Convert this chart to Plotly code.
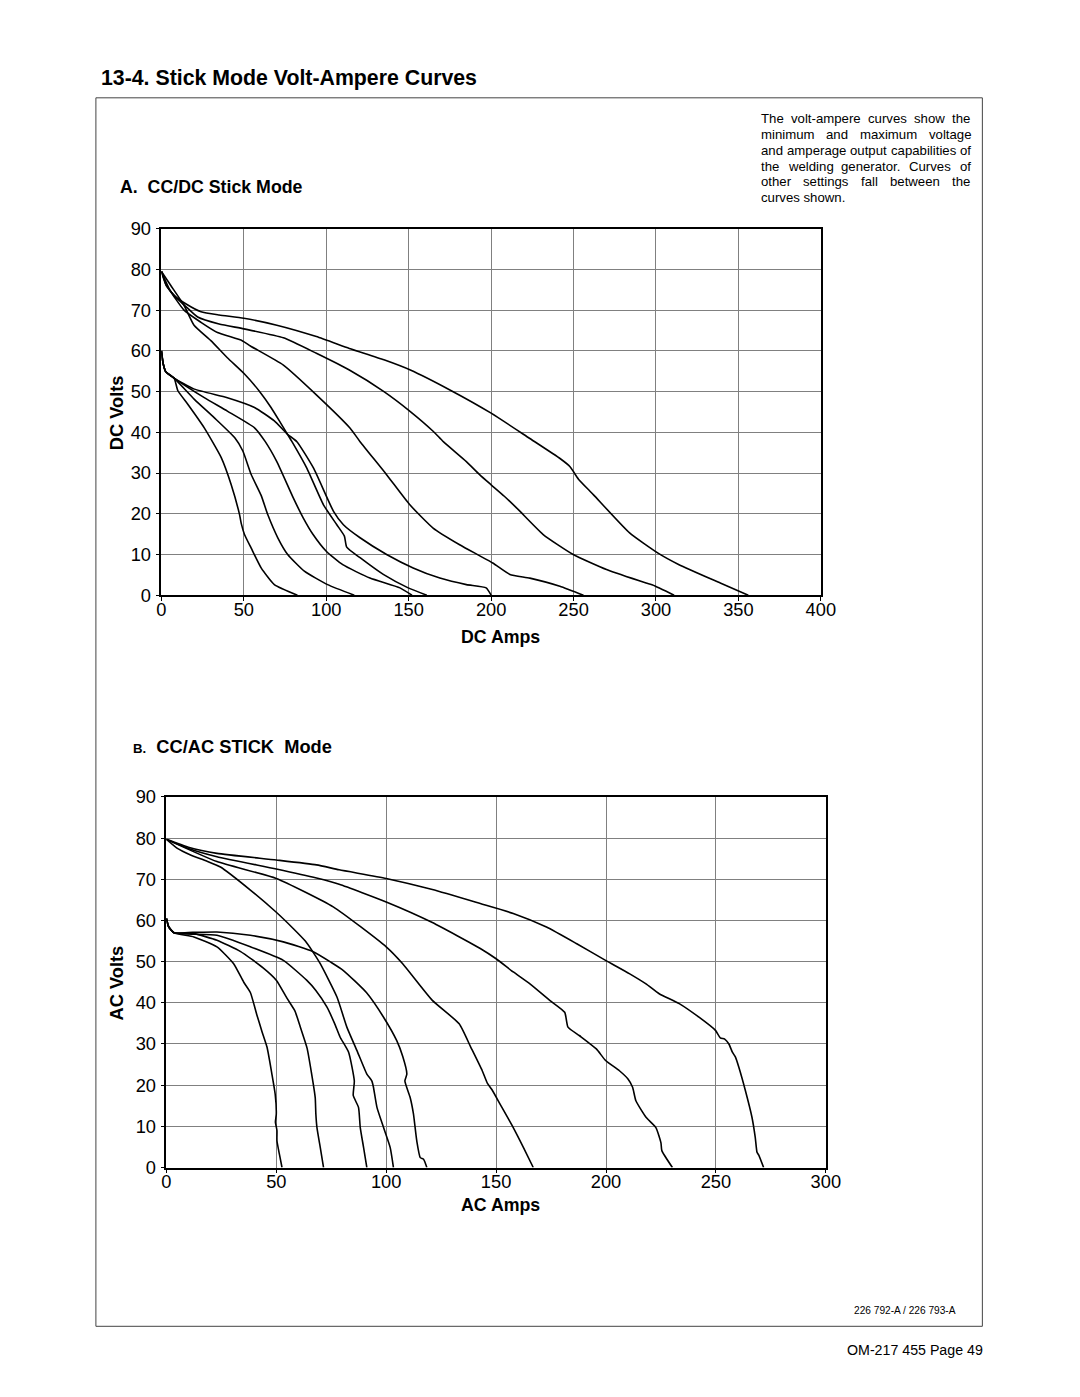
import plotly.graph_objects as go

# ---------------- DC chart data (amps, volts) ----------------
dc_u1_amps = [0, 3, 8, 15, 24, 35, 50, 70, 94, 114, 135, 151, 175, 200, 223, 242, 248, 250, 253, 262, 284, 301, 314, 339, 356]
dc_u1_volts = [79.5, 76, 73.5, 71.5, 69.6, 68.8, 68, 66.3, 63.5, 60.6, 57.8, 55.3, 50.4, 44.7, 38.6, 33.5, 31.5, 30.3, 28.5, 24.7, 15.3, 10.4, 7.5, 3, 0]

dc_u2_amps = [0, 3, 8, 15, 22, 35, 50, 74, 94, 114, 135, 151, 165, 171, 185, 193, 200, 208, 216.5, 231.6, 249.8, 270, 294, 298, 311]
dc_u2_volts = [79.5, 76, 73.5, 70.8, 68.3, 66.6, 65.4, 63.2, 59.4, 55.3, 50, 45.1, 40.2, 37.7, 32.8, 29.6, 27.1, 24.3, 21, 14.9, 10, 6.3, 3, 2.5, 0]

dc_u3_amps = [0, 5, 13.7, 24, 34, 49, 54, 74, 94, 114.5, 120.5, 136.6, 150.7, 164.8, 180.9, 201, 211.4, 223.5, 241.7, 256]
dc_u3_volts = [79.5, 75, 70, 67, 64.5, 62.5, 61.2, 56.5, 49.2, 41, 37.7, 29.6, 22.2, 16.5, 12.4, 7.9, 5.1, 4.2, 2.2, 0]

dc_u4_amps = [0, 5.6, 13.7, 19.8, 30, 40, 50.4, 60, 66.5, 72, 76.5, 79.2, 88.2, 98.3, 106.4, 111, 112.4, 120.5, 134.6, 149.7, 161]
dc_u4_volts = [79.5, 76.1, 71.2, 66.3, 62.5, 58.3, 54.3, 49.8, 46.1, 42.5, 39.5, 37.7, 31.2, 22.2, 17.3, 14.5, 11.8, 9.2, 5.1, 1.8, 0]

dc_l1_amps = [0, 1, 2.6, 7.7, 20, 40, 56.5, 68.5, 76.5, 82.2, 92.3, 104.4, 110.4, 120.5, 136.6, 152.7, 168.9, 185, 197, 200]
dc_l1_volts = [60, 57, 54.9, 53.3, 50.6, 48.5, 46.1, 42.8, 39.5, 37.7, 31.2, 20.6, 17.3, 14.1, 10, 6.7, 4.2, 2.6, 1.8, 0]

dc_l2_amps = [0, 1, 2.6, 7.7, 26, 40, 56.5, 63, 70, 80, 86, 92, 100, 110, 126.5, 144.7, 152]
dc_l2_volts = [60, 57, 54.9, 53.3, 48.5, 45.2, 41.1, 37.7, 32.8, 23.9, 19, 14.9, 10.8, 7.5, 4.2, 1.8, 0]

dc_l3_amps = [0, 1, 2.6, 7.7, 20, 32, 44.4, 49.4, 54.4, 60.5, 64.5, 70.6, 76.6, 86.7, 100.8, 117]
dc_l3_volts = [60, 57, 54.9, 53.3, 48.1, 43.6, 38.7, 35.4, 29.7, 24.5, 19.8, 14.1, 10, 5.9, 2.6, 0]

dc_l4_amps = [0, 1, 2.6, 7.7, 10, 16, 26, 36.3, 42.3, 47.4, 48.5, 50.4, 54.4, 60.5, 68.5, 82.5]
dc_l4_volts = [60, 57, 54.9, 53.3, 50.2, 46.9, 41.1, 33.8, 27.2, 19.8, 17.5, 14.9, 11.6, 6.7, 2.6, 0]

# ---------------- AC chart data (amps, volts) ----------------
ac_u1_amps = [0, 10, 23, 50, 68.3, 78.6, 100, 121, 142.8, 157.8, 172.9, 186.5, 199.8, 210.6, 218.2, 224.2, 233.3, 242.3, 249.8, 252, 254, 255.9, 257.5, 258.9, 260.4, 263.4, 266.4, 267.9, 268.7, 269.5, 271.7]
ac_u1_volts = [79.7, 77.8, 76.3, 74.7, 73.5, 72.3, 70.2, 67.5, 64.1, 61.7, 58.4, 54.4, 50.3, 47.1, 44.6, 42.2, 39.8, 36.5, 33.3, 31.5, 31.2, 30, 28, 26.8, 24.4, 18.7, 12.2, 7.3, 3.7, 3, 0]

ac_u2_amps = [0, 10, 23, 50, 68.3, 78.6, 100, 121, 142.8, 150, 157.8, 165.4, 174.4, 181.2, 182.7, 188, 195.6, 199.8, 206.1, 210, 212.1, 213.6, 218.2, 222.7, 225, 225.4, 230.2]
ac_u2_volts = [79.7, 77.5, 75.5, 72.5, 70.3, 68.8, 64.5, 59.5, 53.2, 50.7, 47.5, 44.6, 40.6, 37.7, 34.1, 32, 28.8, 26, 23.5, 21.5, 19.5, 16.2, 12.2, 9.7, 6, 4.1, 0]

ac_u3_amps = [0, 23, 50, 75.9, 100, 107.5, 121, 133.2, 138.5, 143.7, 146, 148, 151.8, 157.8, 162.4, 166.9]
ac_u3_volts = [79.7, 74.3, 70.2, 63.3, 53.6, 49.5, 40.6, 34.9, 29.2, 23.5, 20.5, 19, 15.4, 9.7, 4.9, 0]

ac_u4_amps = [0, 5, 11, 18, 24.6, 38.2, 50, 57.8, 63.2, 66.5, 70, 77.6, 82.1, 86.7, 91.2, 93.5, 94.2, 95.8, 98.8, 101.8, 103.3]
ac_u4_volts = [79.7, 77.5, 75.9, 74.5, 73, 67.4, 62, 58, 55, 52.5, 49.5, 41.4, 34.1, 28.4, 22.7, 21, 19.5, 14.6, 9.7, 4.9, 0]

ac_l1_amps = [0, 1, 3.5, 12, 23, 38.2, 53.2, 66.8, 75, 80.4, 91, 98.8, 104.8, 107.5, 109.4, 108.5, 110.9, 112.4, 113.9, 115.5, 117, 118.5]
ac_l1_volts = [60.5, 58.5, 57, 57.1, 57.2, 56.4, 54.8, 52.4, 49.8, 47.9, 42.5, 36.5, 30.8, 27, 22.7, 21, 17, 13, 6.5, 2.4, 2, 0]

ac_l2_amps = [0, 1, 3.5, 23, 38.2, 53.2, 63.8, 68, 73, 76.5, 79, 82.9, 85.5, 85, 87.4, 88.2, 89.7, 91.2]
ac_l2_volts = [60.5, 58.5, 57, 56.4, 53.6, 50.3, 45.5, 43, 39, 35, 31.7, 28, 21, 17.5, 14.6, 9.7, 4.9, 0]

ac_l3_amps = [0, 1, 3.5, 12.5, 23, 33.6, 44, 50, 55, 58.5, 61, 64, 66, 67.7, 68, 68.5, 70, 71.5]
ac_l3_volts = [60.5, 58.5, 57, 56.8, 55.2, 52.5, 48.5, 45.5, 41, 38, 34, 29, 23, 17, 13, 9.7, 4.9, 0]

ac_l4_amps = [0, 1, 3.5, 12.5, 23, 30.6, 35.2, 38.2, 41.2, 43.5, 45.8, 48, 49.5, 50, 49.6, 50.3, 50.3, 51.5, 52.6]
ac_l4_volts = [60.5, 58.5, 57, 56, 53.6, 49.5, 45, 42.5, 37, 33, 29.2, 22.7, 17.8, 13, 11, 9, 6.5, 3, 0]

dc_amp_ticks = [0, 50, 100, 150, 200, 250, 300, 350, 400]
ac_amp_ticks = [0, 50, 100, 150, 200, 250, 300]
volt_ticks = [0, 10, 20, 30, 40, 50, 60, 70, 80, 90]

note_lines = ["The volt-ampere curves show the", "minimum and maximum voltage",
              "and amperage output capabilities of", "the welding generator. Curves of",
              "other settings fall between the", "curves shown."]

dc_series = [(dc_u1_amps, dc_u1_volts), (dc_u2_amps, dc_u2_volts), (dc_u3_amps, dc_u3_volts),
             (dc_u4_amps, dc_u4_volts), (dc_l1_amps, dc_l1_volts), (dc_l2_amps, dc_l2_volts),
             (dc_l3_amps, dc_l3_volts), (dc_l4_amps, dc_l4_volts)]
ac_series = [(ac_u1_amps, ac_u1_volts), (ac_u2_amps, ac_u2_volts), (ac_u3_amps, ac_u3_volts),
             (ac_u4_amps, ac_u4_volts), (ac_l1_amps, ac_l1_volts), (ac_l2_amps, ac_l2_volts),
             (ac_l3_amps, ac_l3_volts), (ac_l4_amps, ac_l4_volts)]

# page layout: body keeps its default 8px margin; positions below are given in
# target-picture pixels and corrected for the observed capture scale/offset
OFF = 8
W, H = 1080 - 2 * OFF, 1397 - 2 * OFF
SX, OX, SY, OY = 0.984, 4.0, 0.986, 9.2
FS = 1 / 0.985
FONT = "Liberation Sans, Arial, Helvetica, sans-serif"

# Arial / Liberation Sans advance widths (1/1000 em) used to justify the note
ADV = {' ': 278, 'a': 556, 'b': 556, 'c': 500, 'd': 556, 'e': 556, 'f': 278, 'g': 556, 'h': 556,
       'i': 222, 'j': 222, 'k': 500, 'l': 222, 'm': 833, 'n': 556, 'o': 556, 'p': 556, 'q': 556,
       'r': 333, 's': 500, 't': 278, 'u': 556, 'v': 500, 'w': 722, 'x': 500, 'y': 500, 'z': 500,
       'C': 722, 'T': 611, '-': 333, '.': 278}


def tw(s, size):
    return sum(ADV.get(c, 556) for c in s) / 1000 * size


def px(x):
    return ((x - OX) / SX - OFF) / W


def py(y):
    return 1 - ((y - OY) / SY - OFF) / H


def fz(s):
    return s * FS


fig = go.Figure()
for xs, ys in dc_series:
    fig.add_trace(go.Scatter(x=xs, y=ys, mode="lines", xaxis="x", yaxis="y",
                             line=dict(color="black", width=1.6, shape="spline", smoothing=0.5),
                             showlegend=False, hoverinfo="skip"))
for xs, ys in ac_series:
    fig.add_trace(go.Scatter(x=xs, y=ys, mode="lines", xaxis="x2", yaxis="y2",
                             line=dict(color="black", width=1.6, shape="spline", smoothing=0.5),
                             showlegend=False, hoverinfo="skip"))

axis_common = dict(showgrid=True, gridcolor="#808080", gridwidth=1, showline=True, mirror=True,
                   linecolor="black", linewidth=1.5, ticks="outside", ticklen=4, tickcolor="black",
                   zeroline=False, tickfont=dict(family=FONT, size=fz(18), color="black"), fixedrange=True)

fig.update_layout(
    width=W, height=H, margin=dict(l=0, r=0, t=0, b=0),
    paper_bgcolor="white", plot_bgcolor="white", showlegend=False,
    xaxis=dict(domain=[px(160.7), px(822)], range=[0, 400], tickvals=dc_amp_ticks, anchor="y",
               ticklabelstandoff=-7, **axis_common),
    yaxis=dict(domain=[py(594), py(227)], range=[0, 90], tickvals=volt_ticks, anchor="x",
               ticklabelstandoff=1, **axis_common),
    xaxis2=dict(domain=[px(165.7), px(827)], range=[0, 300], tickvals=ac_amp_ticks, anchor="y2",
                ticklabelstandoff=-7, **axis_common),
    yaxis2=dict(domain=[py(1167), py(796)], range=[0, 90], tickvals=volt_ticks, anchor="x2",
                ticklabelstandoff=1, **axis_common),
)

# page frame
fig.add_shape(type="rect", xref="paper", yref="paper", x0=px(95), x1=px(984), y0=py(1326), y1=py(96),
              line=dict(color="#444", width=1), fillcolor="rgba(0,0,0,0)", layer="below")


def ann(text, x, y, size, bold=False, xanchor="left", yanchor="middle", angle=0):
    t = f"<b>{text}</b>" if bold else text
    fig.add_annotation(text=t, x=px(x), y=py(y), xref="paper", yref="paper", showarrow=False,
                       xanchor=xanchor, yanchor=yanchor, textangle=angle,
                       font=dict(family=FONT, size=fz(size), color="black"))


ann("13-4. Stick Mode Volt-Ampere Curves", 98, 76, 21, bold=True)

# justified note (each word placed so the lines fill the column)
NOTE_X0, NOTE_X1, NOTE_Y0, NOTE_DY, NOTE_FS = 760, 970, 117, 15.8, 13
for i, line in enumerate(note_lines):
    y = NOTE_Y0 + i * NOTE_DY
    words = line.split(" ")
    last = i == len(note_lines) - 1
    if last or len(words) == 1:
        ann(line, NOTE_X0, y, NOTE_FS)
        continue
    total = sum(tw(w, NOTE_FS) for w in words)
    gap = (NOTE_X1 - NOTE_X0 - total) / (len(words) - 1)
    x = NOTE_X0
    for w in words:
        ann(w, x, y, NOTE_FS)
        x += tw(w, NOTE_FS) + gap

ann("A.  CC/DC Stick Mode", 117, 185, 17.5, bold=True)
ann("DC Volts", 116, 411, 18, bold=True, xanchor="center", angle=-90)
ann("DC Amps", 501, 636, 17.5, bold=True, xanchor="center")
ann(f"<span style='font-size:{fz(13):.1f}px'>B.</span>  CC/AC STICK  Mode", 130, 745, 18, bold=True)
ann("AC Volts", 116, 982, 18, bold=True, xanchor="center", angle=-90)
ann("AC Amps", 501, 1205, 17.5, bold=True, xanchor="center")
ann("226 792-A / 226 793-A", 960, 1310, 10, xanchor="right")
ann("OM-217 455 Page 49", 987, 1350, 14, xanchor="right")

fig.write_html("out.html")
